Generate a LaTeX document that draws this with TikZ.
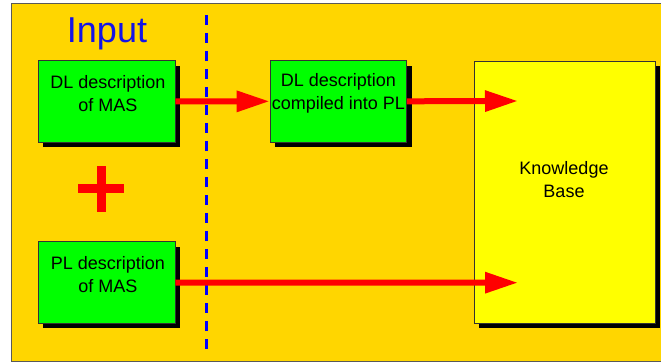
\documentclass[tikz,border=0pt]{standalone}
\usepackage{fontspec}
\setmainfont{Liberation Sans}
\usetikzlibrary{arrows.meta}
\definecolor{bggold}{RGB}{255,214,0}
\definecolor{boxgreen}{RGB}{0,255,0}
\definecolor{kbyellow}{RGB}{255,255,0}
\definecolor{titleblue}{RGB}{20,20,230}
\tikzset{
  box/.style={draw=black!80, line width=0.6pt, minimum width=136.7pt, minimum height=81.5pt, inner sep=0pt},
  shadowbox/.style={fill=black, draw=none, minimum width=136.7pt, minimum height=81.5pt, inner sep=0pt},
  lbl/.style={font=\fontsize{18}{23}\selectfont, align=center, inner sep=0pt, text=black},
  bigarrow/.style={draw=red, line width=6pt, -{Triangle[length=33pt,width=20pt,fill=red]}},
}
\begin{document}
\begin{tikzpicture}[x=1pt,y=-1pt]
\useasboundingbox (0,0) rectangle (661,363);
\fill[white] (0,0) rectangle (661,363);
\filldraw[fill=bggold, draw=black!65, line width=1pt] (11.7,3.5) rectangle (663,361.7);
% title
\node[text=titleblue, font=\fontsize{36}{40}\selectfont, inner sep=0pt] (title) at (107,34) {Input};
% dashed divider
\coordinate (dtop) at (206.7,15);
\coordinate (dbot) at (206.7,350);
\draw[blue, line width=3pt, dash pattern=on 10pt off 8pt] (dtop) -- (dbot);
% shadows
\node[shadowbox] (s1) at (111.7,106.5) {};
\node[shadowbox] (s2) at (343.3,106.3) {};
\node[shadowbox] (s3) at (111.7,287.5) {};
\node[fill=black, minimum width=181pt, minimum height=262pt, inner sep=0pt] (skb) at (569.5,197) {};
% boxes
\node[box, fill=boxgreen] (b1) at (106.7,101.5) {};
\node[box, fill=boxgreen] (b2) at (338.3,101.3) {};
\node[box, fill=boxgreen] (b3) at (106.7,282.5) {};
\node[draw=black!80, line width=0.6pt, fill=kbyellow, minimum width=181pt, minimum height=262pt, inner sep=0pt] (kb) at (564.5,192) {};
% plus
\node[inner sep=0pt] (plus) at (101,189) {};
\fill[red] (78,184.5) rectangle (124,193.5);
\fill[red] (96.5,166) rectangle (105.5,212);
% arrows
\coordinate (kbin1) at (518,101);
\coordinate (kbin2) at (518,282.7);
\draw[bigarrow] (b1.east) -- (b2.west);
\draw[bigarrow] (b2.east) -- (kbin1);
\draw[bigarrow] (b3.east) -- (kbin2);
% labels
\node[lbl] (t1) at (108,93.5) {DL description\\of MAS};
\node[lbl] (t2) at (338.5,93.5) {DL description\\compiled into PL};
\node[lbl] (t3) at (108,274.5) {PL description\\of MAS};
\node[lbl] (tkb) at (564,179.5) {Knowledge\\Base};
\end{tikzpicture}
\end{document}
